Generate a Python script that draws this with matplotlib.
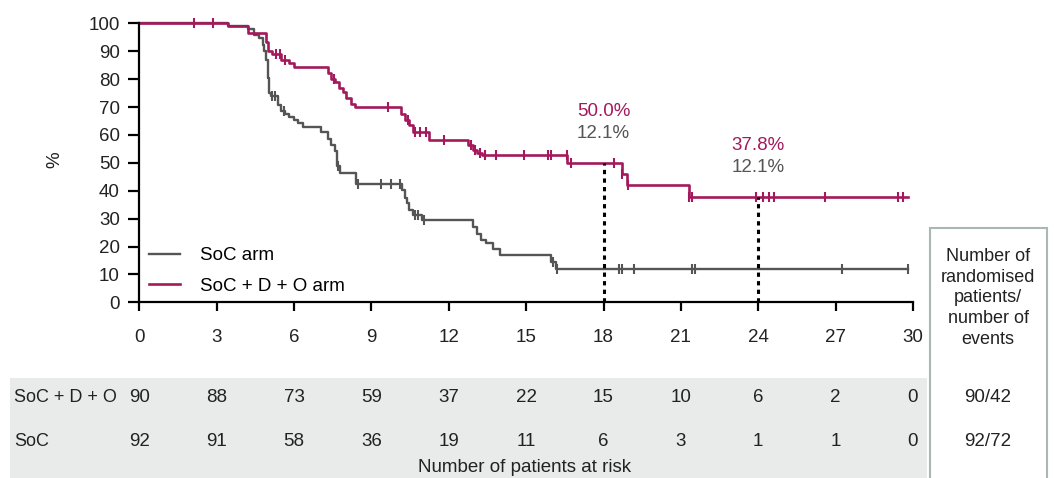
import numpy as np
import matplotlib.pyplot as plt
from matplotlib.patches import Rectangle
import matplotlib.transforms as mtransforms

plt.rcParams['font.family'] = ['Liberation Sans', 'DejaVu Sans']

# -------------------------------
# Data
# -------------------------------
# SoC + D + O arm: step times (months) and survival (%) after each step
dox_times = [0, 3.43, 4.2, 4.92, 5.0, 5.15, 5.5, 5.8, 6.0, 7.3, 7.45, 7.6, 7.75, 7.9, 8.0,
             8.2, 8.35, 10.15, 10.3, 10.45, 10.6, 11.25, 12.75, 12.95, 13.1, 13.3, 16.6,
             18.72, 18.9, 21.3, 29.8]
dox_surv = [100, 98.9, 96.7, 93.3, 90.0, 88.9, 87.0, 85.6, 84.4, 82.2, 80.0, 78.9, 76.7, 75.5,
            73.3, 71.1, 70.0, 67.5, 65.4, 63.6, 61.1, 58.2, 56.4, 54.6, 53.4, 52.8, 50.0,
            45.9, 42.0, 37.8, 37.8]
dox_censor = [2.14, 2.85, 5.3, 5.45, 5.65, 7.55, 9.63, 10.4, 10.7, 10.9, 11.1, 11.8, 12.85,
              13.0, 13.2, 13.4, 13.82, 14.9, 15.85, 15.95, 16.57, 16.75, 18.4, 18.72, 18.95,
              21.3, 21.45, 23.9, 24.2, 24.4, 24.6, 26.6, 29.4, 29.6]

# SoC arm
soc_times = [0, 3.43, 4.2, 4.46, 4.66, 4.79, 4.85, 4.92, 4.98, 5.04, 5.1, 5.37, 5.5, 5.65,
             5.82, 6.0, 6.15, 6.34, 7.05, 7.3, 7.45, 7.6, 7.65, 7.8, 8.4, 10.2, 10.3, 10.38,
             10.45, 10.6, 10.95, 12.92, 13.1, 13.25, 13.45, 13.7, 14.0, 15.95, 16.15, 29.8]
soc_surv = [100, 98.9, 97.8, 95.7, 94.6, 92.4, 90.2, 87.0, 80.4, 75.0, 73.9, 70.7, 68.5, 67.4,
            66.3, 65.2, 64.1, 63.0, 60.9, 58.7, 56.5, 54.3, 48.9, 46.4, 42.5, 40.3, 37.4, 35.5,
            33.1, 31.2, 29.5, 27.0, 24.6, 22.3, 21.1, 19.2, 16.8, 14.4, 12.1, 12.1]
soc_censor = [5.15, 5.25, 5.6, 7.7, 8.47, 9.37, 9.76, 10.1, 10.7, 10.8, 11.05, 16.05, 16.2,
              18.6, 18.72, 19.18, 21.43, 21.56, 27.24, 29.8]

landmarks = [18, 24]
dox_landmark = ['50.0%', '37.8%']
soc_landmark = ['12.1%', '12.1%']

months = [0, 3, 6, 9, 12, 15, 18, 21, 24, 27, 30]
risk_dox = [90, 88, 73, 59, 37, 22, 15, 10, 6, 2, 0]
risk_soc = [92, 91, 58, 36, 19, 11, 6, 3, 1, 1, 0]
events = ['90/42', '92/72']

MAG = '#a3195b'
GRY = '#555555'
TXT = '#222222'
FS = 13.5


def surv_at(t, times, surv):
    idx = np.searchsorted(times, t, side='right') - 1
    return np.asarray(surv)[idx]


fig = plt.figure(figsize=(10.54, 4.78), dpi=100)
W, H = 1054, 478
ax = fig.add_axes([139.3 / W, 1 - 302.3 / H, (913 - 139.3) / W, (302.3 - 23.3) / H])

# curves
ax.step(soc_times, soc_surv, where='post', color=GRY, lw=1.7, label='SoC arm', clip_on=False)
ax.step(dox_times, dox_surv, where='post', color=MAG, lw=1.9, label='SoC + D + O arm', clip_on=False)
ax.plot(soc_censor, surv_at(soc_censor, soc_times, soc_surv), ls='none', marker='|',
        ms=7, mew=1.5, color=GRY, clip_on=False)
ax.plot(dox_censor, surv_at(dox_censor, dox_times, dox_surv), ls='none', marker='|',
        ms=7, mew=1.5, color=MAG, clip_on=False)

# landmark lines + labels
for t, lab_d, lab_s in zip(landmarks, dox_landmark, soc_landmark):
    v = surv_at(t, dox_times, dox_surv)
    ax.plot([t, t], [0, v], color='black', lw=2.2, ls=(0, (1.4, 1.4)))
    ax.text(t, v + 18.5, lab_d, color=MAG, ha='center', va='center', fontsize=FS)
    ax.text(t, v + 10.5, lab_s, color=GRY, ha='center', va='center', fontsize=FS)

ax.set_xlim(0, 30)
ax.set_ylim(0, 100)
ax.set_xticks(months)
ax.set_yticks(range(0, 101, 10))
for s in ['top', 'right']:
    ax.spines[s].set_visible(False)
for s in ['left', 'bottom']:
    ax.spines[s].set_linewidth(1.6)
ax.tick_params(axis='y', length=8, width=1.6, pad=6, labelsize=FS, labelcolor=TXT)
ax.tick_params(axis='x', length=6.5, width=1.6, pad=13, labelsize=FS, labelcolor=TXT)

ax.legend(loc='center left', bbox_to_anchor=(0.012, 0.112), frameon=False, fontsize=FS,
          handlelength=1.65, handletextpad=1.1, labelspacing=0.7, borderpad=0, borderaxespad=0)

fig.text(55 / W, 1 - 160 / H, '%', rotation=90, ha='center', va='center', fontsize=FS, color=TXT)

# number-at-risk table
fig.add_artist(Rectangle((10 / W, 0), (927 - 10) / W, (H - 378) / H, transform=fig.transFigure,
                         facecolor='#e8ebea', edgecolor='none', zorder=0))
trans = mtransforms.blended_transform_factory(ax.transData, fig.transFigure)
for m, a, b in zip(months, risk_dox, risk_soc):
    fig.text(m, 1 - 397 / H, str(a), transform=trans, ha='center', va='center', fontsize=FS, color=TXT)
    fig.text(m, 1 - 441 / H, str(b), transform=trans, ha='center', va='center', fontsize=FS, color=TXT)
fig.text(14 / W, 1 - 397 / H, 'SoC + D + O', ha='left', va='center', fontsize=13, color=TXT)
fig.text(14 / W, 1 - 441 / H, 'SoC', ha='left', va='center', fontsize=13, color=TXT)
fig.text(525 / W, 1 - 467 / H, 'Number of patients at risk', ha='center', va='center', fontsize=FS,
         color=TXT)

# events box
fig.add_artist(Rectangle((930 / W, -0.02), (1047 - 930) / W, (H - 227.5) / H + 0.02,
                         transform=fig.transFigure, facecolor='white', edgecolor='#a9b8b4', lw=1.5))
fig.text(988 / W, 1 - 298 / H, 'Number of\nrandomised\npatients/\nnumber of\nevents', ha='center',
         va='center', fontsize=13, linespacing=1.3, color=TXT)
fig.text(988 / W, 1 - 397 / H, events[0], ha='center', va='center', fontsize=FS, color=TXT)
fig.text(988 / W, 1 - 441 / H, events[1], ha='center', va='center', fontsize=FS, color=TXT)

fig.savefig('out.png', dpi=100)
